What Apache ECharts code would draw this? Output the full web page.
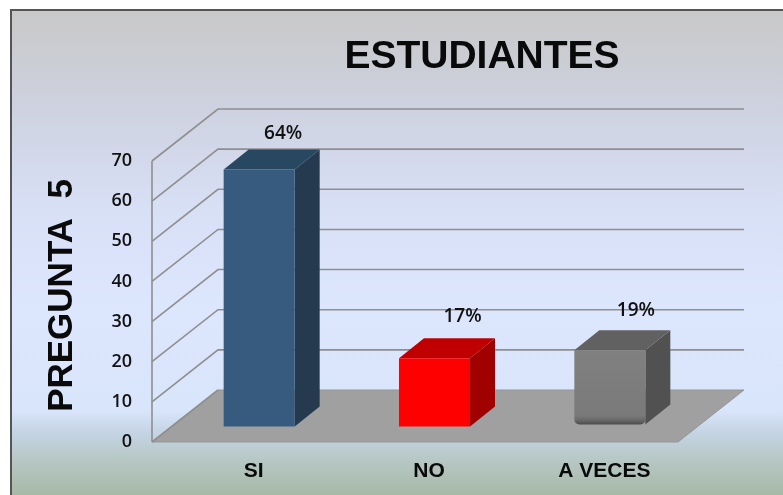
<!DOCTYPE html>
<html>
<head>
<meta charset="utf-8">
<style>html,body{margin:0;padding:0;background:#fff}#c{width:783px;height:495px}</style>
<script src="https://cdn.jsdelivr.net/npm/echarts@6/dist/echarts.min.js"></script>
</head>
<body>
<div id="c"></div>
<script>
const categories = ['SI', 'NO', 'A VECES'];
const values = [64, 17, 19];
const percentLabels = ['64%', '17%', '19%'];
const yTicks = [0, 10, 20, 30, 40, 50, 60, 70];
const titleText = 'ESTUDIANTES';
const yAxisTitle = 'PREGUNTA  5';

const WALL_DX = 66, WALL_DY = 52;      // projection depth of the chart box
const BAR_SHIFT_X = 19.5, BAR_SHIFT_Y = 15.5; // bar front face position inside depth
const BAR_DX = 25, BAR_DY = 20;        // bar depth
const BAR_RATIO = 0.405;
const barFaces = [
  { front: '#375a7f', top: '#284862', side: '#25394f' },
  { front: '#ff0000', top: '#c00000', side: '#a00000' },
  { front: new echarts.graphic.LinearGradient(0, 0, 0, 1, [
      { offset: 0, color: '#808080' }, { offset: 0.88, color: '#7a7a7a' },
      { offset: 0.95, color: '#666666' }, { offset: 1, color: '#4a4a4a' }]),
    top: '#616161', side: '#515151', rounded: true }
];
const labelNudges = [[-1, 3], [3, -3], [1, -1]];

const chart = echarts.init(document.getElementById('c'), null, { renderer: 'canvas' });

function renderWall(params, api) {
  const v = api.value(0);
  const p0 = api.coord([0, v]);
  const size = api.size([1, 0])[0];
  const left = p0[0] - size / 2;
  const right = left + size * categories.length;
  const y = p0[1];
  const lineStyle = { stroke: '#8f8f8f', lineWidth: 1.6, fill: null };
  const children = [];
  if (v === 0) {
    children.push({
      type: 'polygon',
      shape: { points: [[left, y], [left + WALL_DX, y - WALL_DY], [right + WALL_DX, y - WALL_DY], [right, y]] },
      style: { fill: '#a0a0a0', stroke: '#969696', lineWidth: 1 }
    });
    const top = api.coord([0, yTicks[yTicks.length - 1]])[1];
    children.push({ type: 'line', shape: { x1: left, y1: y, x2: left, y2: top }, style: lineStyle });
    children.push({ type: 'line', shape: { x1: left, y1: y, x2: left + WALL_DX, y2: y - WALL_DY }, style: lineStyle });
  } else {
    children.push({
      type: 'polyline',
      shape: { points: [[left, y], [left + WALL_DX, y - WALL_DY], [right + WALL_DX, y - WALL_DY]] },
      style: lineStyle
    });
  }
  return { type: 'group', children };
}

function renderBar(params, api) {
  const i = api.value(0);
  const v = api.value(1);
  const w = api.size([1, 0])[0] * BAR_RATIO;
  const base = api.coord([i, 0]);
  const head = api.coord([i, v]);
  const x0 = base[0] + BAR_SHIFT_X - w / 2;
  const x1 = x0 + w;
  const yb = base[1] - BAR_SHIFT_Y - (barFaces[i].rounded ? 2 : 0);
  const yt = head[1] - BAR_SHIFT_Y;
  const f = barFaces[i];
  const n = labelNudges[i];
  return {
    type: 'group',
    children: [
      { type: 'polygon', shape: { points: [[x1, yt], [x1 + BAR_DX, yt - BAR_DY], [x1 + BAR_DX, yb - BAR_DY], [x1, yb]] }, style: { fill: f.side } },
      { type: 'polygon', shape: { points: [[x0, yt], [x0 + BAR_DX, yt - BAR_DY], [x1 + BAR_DX, yt - BAR_DY], [x1, yt]] }, style: { fill: f.top } },
      { type: 'rect', shape: { x: x0, y: yt, width: w, height: yb - yt, r: f.rounded ? [0, 0, 5, 5] : 0 }, style: { fill: f.front } },
      { type: 'text', style: {
          text: percentLabels[i], x: (x0 + x1) / 2 + 25 + n[0], y: yt - 39 + n[1],
          align: 'center', verticalAlign: 'middle',
          font: '600 19px "Open Sans"', fill: '#111111' } }
    ]
  };
}

chart.setOption({
  animation: false,
  backgroundColor: '#ffffff',
  title: {
    text: titleText, left: 477, top: 33, textAlign: 'center',
    textStyle: { fontFamily: 'Liberation Sans', fontWeight: 'bold', fontSize: 39, color: '#0a0a0a' }
  },
  graphic: [{
    type: 'rect', z: -10, silent: true,
    shape: { x: 11, y: 10, width: 790, height: 500 },
    style: {
      stroke: '#555555', lineWidth: 2,
      fill: new echarts.graphic.LinearGradient(0, 0, 0, 1, [
        { offset: 0, color: '#c8c8c8' }, { offset: 0.2, color: '#ced2e0' },
        { offset: 0.4, color: '#d8e0f6' }, { offset: 0.6, color: '#dce6fd' },
        { offset: 0.8, color: '#d9e5fb' }, { offset: 0.84, color: '#c6d5e6' },
        { offset: 0.9, color: '#b6c7c4' }, { offset: 0.97, color: '#a6b9a6' }, { offset: 1, color: '#a6b9a6' }])
    }
  }],
  grid: { left: 152, right: 105, top: 161, bottom: 53 },
  xAxis: {
    type: 'category', data: categories,
    axisLine: { show: false }, axisTick: { show: false },
    axisLabel: { margin: 19, padding: [0, 0, 0, 28], fontFamily: 'Liberation Sans', fontWeight: 'bold', fontSize: 21, color: '#0a0a0a' }
  },
  yAxis: {
    type: 'value', min: 0, max: 70, interval: 10,
    name: yAxisTitle, nameLocation: 'middle', nameGap: 72, nameRotate: 90,
    nameTextStyle: { fontFamily: 'Liberation Sans', fontWeight: 'bold', fontSize: 35, color: '#0a0a0a', padding: [0, 0, 0, 12] },
    axisLine: { show: false }, axisTick: { show: false }, splitLine: { show: false },
    axisLabel: { margin: 20, fontFamily: 'Open Sans', fontWeight: 600, fontSize: 18, color: '#111111' }
  },
  series: [
    { type: 'custom', z: 1, silent: true, data: yTicks.map(t => [t]), encode: { y: 0 }, renderItem: renderWall },
    { type: 'custom', z: 2, silent: true, data: values.map((v, i) => [i, v]), encode: { x: 0, y: 1 }, renderItem: renderBar }
  ]
});
</script>
</body>
</html>
